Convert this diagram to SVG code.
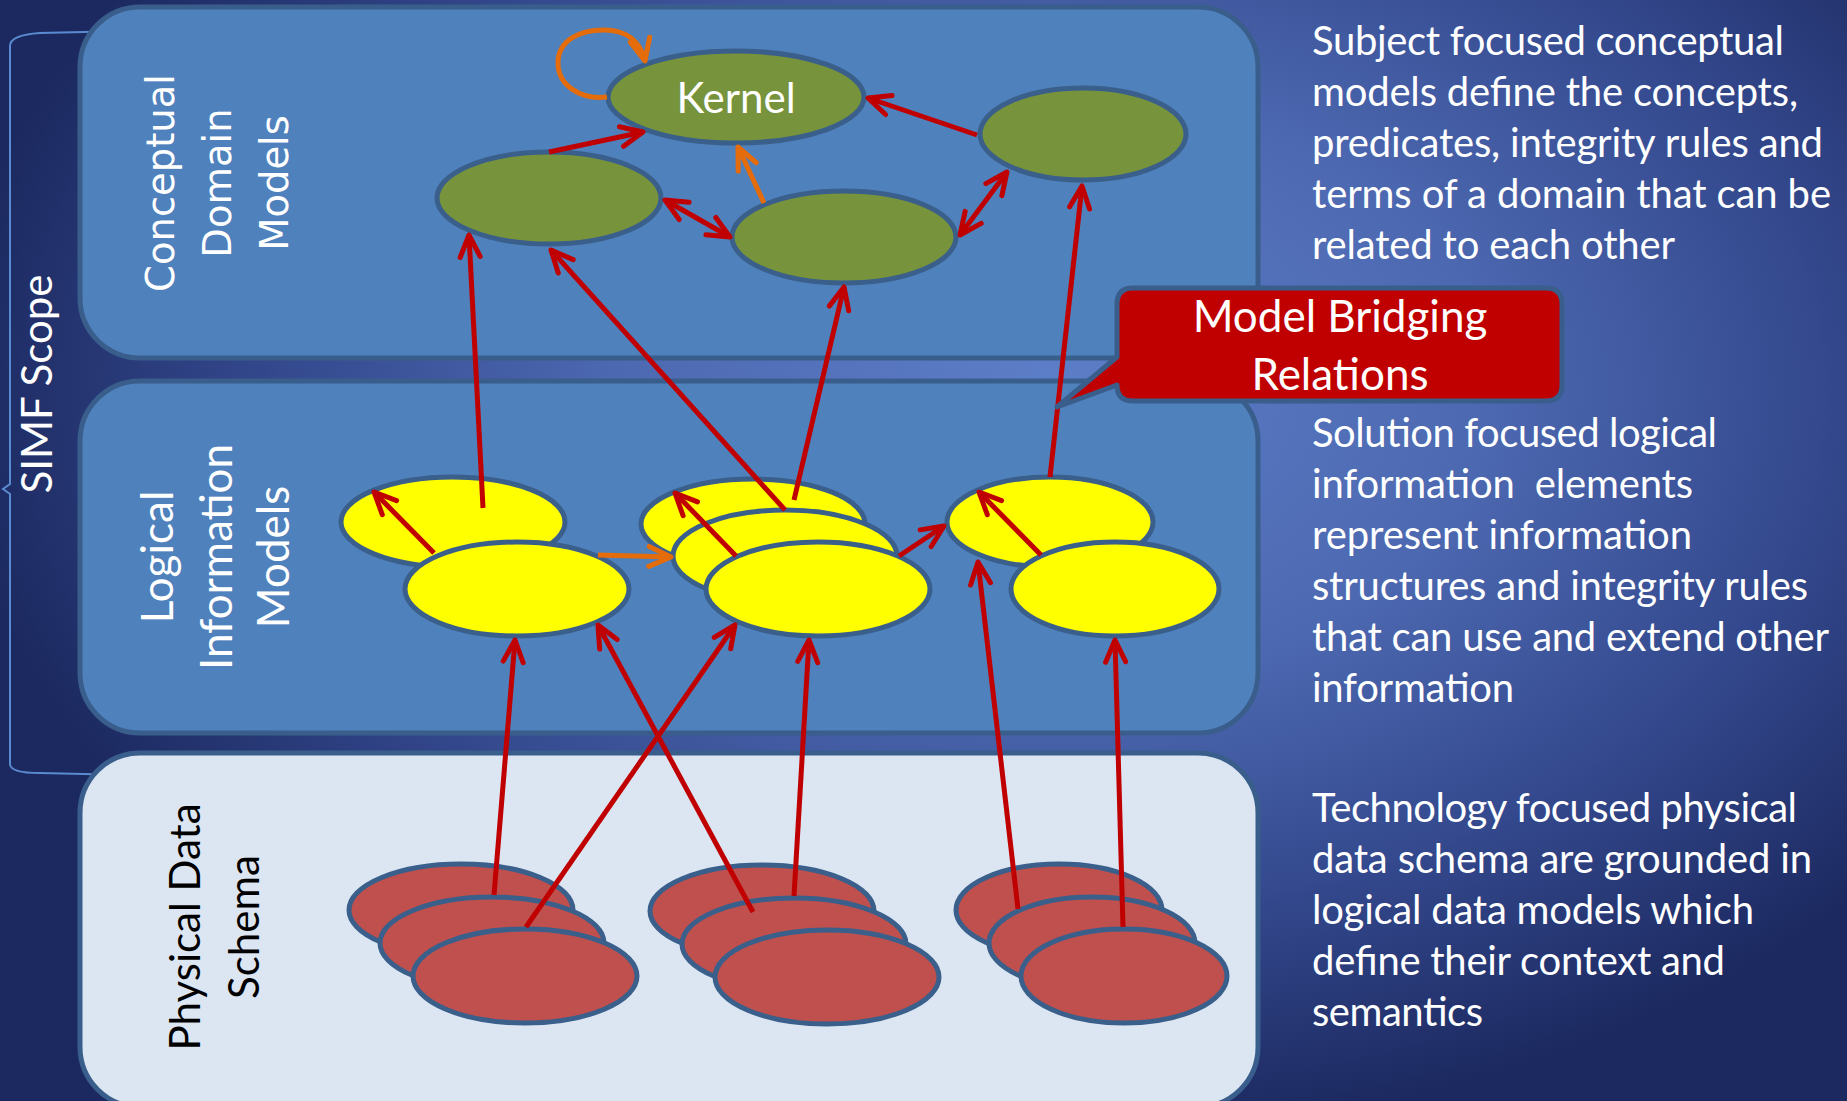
<svg xmlns="http://www.w3.org/2000/svg" width="1847" height="1101" viewBox="0 0 1847 1101">
<defs>
<radialGradient id="bg" gradientUnits="userSpaceOnUse" cx="1050" cy="390" r="1100" gradientTransform="translate(1050 390) scale(1 0.68) translate(-1050 -390)">
<stop offset="0" stop-color="#5d7ec8"/>
<stop offset="0.4" stop-color="#4c68b0"/>
<stop offset="0.7" stop-color="#34498e"/>
<stop offset="1" stop-color="#1c2960"/>
</radialGradient>
<marker id="ar" markerUnits="userSpaceOnUse" markerWidth="40" markerHeight="40" viewBox="-30 -20 40 40" refX="0" refY="0" orient="auto-start-reverse" overflow="visible">
<path d="M-22,-10 L0,0 L-22,10" fill="none" stroke="#c00000" stroke-width="5" stroke-linecap="round" stroke-linejoin="round"/>
</marker>
<marker id="ao" markerUnits="userSpaceOnUse" markerWidth="40" markerHeight="40" viewBox="-30 -20 40 40" refX="0" refY="0" orient="auto" overflow="visible">
<path d="M-22,-10 L0,0 L-22,10" fill="none" stroke="#e46c0a" stroke-width="5" stroke-linecap="round" stroke-linejoin="round"/>
</marker>
<style>
.panel{stroke:#3a5e8c;stroke-width:5}
.blue{fill:#4f81bd}
.light{fill:#dce6f2}
.node ellipse{stroke:#3a5f8b;stroke-width:5}
.g ellipse{fill:#77933c}
.y ellipse{fill:#ffff00}
.r ellipse{fill:#c0504d}
.c{fill:none;stroke:#c00000;stroke-width:5;marker-end:url(#ar)}
.cc{fill:none;stroke:#c00000;stroke-width:5;marker-end:url(#ar);marker-start:url(#ar)}
.o{fill:none;stroke:#e46c0a;stroke-width:5;marker-end:url(#ao)}
.t{font-family:Lato,"Liberation Sans",sans-serif;fill:#ffffff}
.side{font-family:Lato,"Liberation Sans",sans-serif;fill:#ffffff;font-size:40px}
</style>
</defs>
<rect x="0" y="0" width="1847" height="1101" fill="url(#bg)"/>

<g id="scope-bracket">
<path d="M127,31 L40,33 Q10,35 10,46 L10,484 L3,489 L10,494 L10,764 Q10,773 40,773 L127,775" fill="none" stroke="#5a8bd0" stroke-width="2"/>
<text class="t" font-size="42" text-anchor="middle" transform="translate(52 384) rotate(-90)">SIMF Scope</text>
</g>

<g id="layer-conceptual">
<rect class="panel blue" x="80" y="7" width="1178" height="351" rx="60"/>
<g font-family="'DejaVu Sans',Verdana,sans-serif" font-size="38.5" fill="#ffffff" text-anchor="middle">
<text transform="translate(174 183) rotate(-90)">Conceptual</text>
<text transform="translate(231 183) rotate(-90)">Domain</text>
<text transform="translate(288 183) rotate(-90)">Models</text>
</g>
</g>
<g id="layer-logical">
<rect class="panel blue" x="80" y="381" width="1178" height="352" rx="60"/>
<g class="t" font-size="44" text-anchor="middle">
<text transform="translate(173 557) rotate(-90)">Logical</text>
<text transform="translate(232 557) rotate(-90)">Information</text>
<text transform="translate(289 557) rotate(-90)">Models</text>
</g>
</g>
<g id="layer-physical">
<rect class="panel light" x="80" y="753" width="1178" height="354" rx="60"/>
<g font-family="Lato,'Liberation Sans',sans-serif" font-size="42" fill="#000000" text-anchor="middle">
<text transform="translate(200 927) rotate(-90)">Physical Data</text>
<text transform="translate(259 927) rotate(-90)">Schema</text>
</g>
</g>

<g id="kernel" class="node g"><ellipse cx="736" cy="97" rx="128" ry="46"/><text class="t" x="736" y="113" font-size="42" text-anchor="middle">Kernel</text></g>
<g id="cdm-left" class="node g"><ellipse cx="549" cy="198" rx="112" ry="46"/></g>
<g id="cdm-middle" class="node g"><ellipse cx="844" cy="237" rx="112" ry="46"/></g>
<g id="cdm-right" class="node g"><ellipse cx="1083" cy="134" rx="103" ry="46"/></g>

<g id="lim-a-back" class="node y"><ellipse cx="453" cy="522" rx="112" ry="45"/></g>
<g id="lim-a-front" class="node y"><ellipse cx="517" cy="589" rx="112" ry="47"/></g>
<g id="lim-b-back" class="node y"><ellipse cx="753" cy="524" rx="112" ry="45"/></g>
<g id="lim-b-middle" class="node y"><ellipse cx="785" cy="556" rx="112" ry="46"/></g>
<g id="lim-b-front" class="node y"><ellipse cx="818" cy="589" rx="112" ry="47"/></g>
<g id="lim-c-back" class="node y"><ellipse cx="1050" cy="522" rx="103" ry="45"/></g>
<g id="lim-c-front" class="node y"><ellipse cx="1115" cy="589" rx="104" ry="47"/></g>

<g id="pds-a-back" class="node r"><ellipse cx="461" cy="910" rx="112" ry="46"/></g>
<g id="pds-a-middle" class="node r"><ellipse cx="492" cy="943" rx="112" ry="46"/></g>
<g id="pds-a-front" class="node r"><ellipse cx="525" cy="976" rx="112" ry="47"/></g>
<g id="pds-b-back" class="node r"><ellipse cx="762" cy="911" rx="112" ry="46"/></g>
<g id="pds-b-middle" class="node r"><ellipse cx="794" cy="944" rx="112" ry="46"/></g>
<g id="pds-b-front" class="node r"><ellipse cx="827" cy="977" rx="112" ry="47"/></g>
<g id="pds-c-back" class="node r"><ellipse cx="1059" cy="910" rx="103" ry="46"/></g>
<g id="pds-c-middle" class="node r"><ellipse cx="1092" cy="943" rx="103" ry="46"/></g>
<g id="pds-c-front" class="node r"><ellipse cx="1124" cy="976" rx="103" ry="47"/></g>

<g id="connectors">
<path class="c" d="M549,152 L643,132"/>
<path class="c" d="M977,135 L868,98"/>
<path class="cc" d="M665,200 L730,237"/>
<path class="cc" d="M960,235 L1007,172"/>
<path class="o" d="M764,203 L738,147"/>
<path class="o" d="M607,97 C580,100 558,85 558,63 C558,40 580,30 604,30 C625,30 640,40 645,61"/>
<path class="c" d="M483,508 L469,235"/>
<path class="c" d="M785,510 L551,250"/>
<path class="c" d="M794,500 L844,287"/>
<path class="c" d="M1050,477 L1082,186"/>
<path class="c" d="M434,553 L374,492"/>
<path class="o" d="M598,555 L671,557"/>
<path class="c" d="M736,556 L675,493"/>
<path class="c" d="M899,556 L944,526"/>
<path class="c" d="M1041,555 L979,492"/>
<path class="c" d="M494,895 L515,640"/>
<path class="c" d="M526,927 L735,625"/>
<path class="c" d="M753,912 L598,625"/>
<path class="c" d="M794,896 L809,640"/>
<path class="c" d="M1018,909 L978,562"/>
<path class="c" d="M1123,927 L1115,640"/>
</g>

<g id="callout">
<path d="M1133,288 H1546 Q1562,288 1562,304 V385 Q1562,401 1546,401 H1133 Q1117,401 1117,385 L1057,407 L1117,357 V304 Q1117,288 1133,288 Z" fill="#c00000" stroke="#3a5e8c" stroke-width="5" stroke-linejoin="round"/>
<text class="t" font-size="44" text-anchor="middle"><tspan x="1340" y="332">Model Bridging</tspan><tspan x="1340" y="390">Relations</tspan></text>
</g>

<g id="desc-conceptual" class="side">
<text x="1312" y="55" textLength="472">Subject focused conceptual</text>
<text x="1312" y="106" textLength="486">models define the concepts,</text>
<text x="1312" y="157" textLength="511">predicates, integrity rules and</text>
<text x="1312" y="208" textLength="519">terms of a domain that can be</text>
<text x="1312" y="259" textLength="363">related to each other</text>
</g>
<g id="desc-logical" class="side">
<text x="1312" y="447" textLength="405">Solution focused logical</text>
<text x="1312" y="498" xml:space="preserve" textLength="381">information  elements</text>
<text x="1312" y="549" textLength="380">represent information</text>
<text x="1312" y="600" textLength="496">structures and integrity rules</text>
<text x="1312" y="651" textLength="517">that can use and extend other</text>
<text x="1312" y="702" textLength="202">information</text>
</g>
<g id="desc-physical" class="side">
<text x="1312" y="822" textLength="485">Technology focused physical</text>
<text x="1312" y="873" textLength="500">data schema are grounded in</text>
<text x="1312" y="924" textLength="442">logical data models which</text>
<text x="1312" y="975" textLength="413">define their context and</text>
<text x="1312" y="1026" textLength="171">semantics</text>
</g>
</svg>
